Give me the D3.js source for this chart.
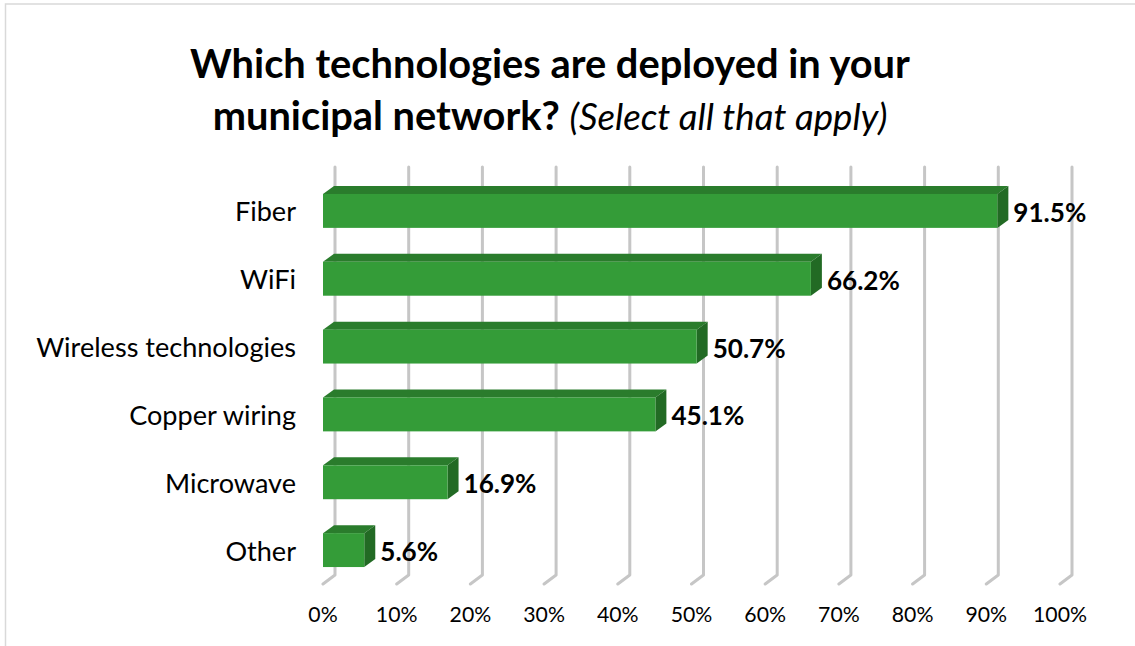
<!DOCTYPE html>
<html>
<head>
<meta charset="utf-8">
<script src="https://cdn.jsdelivr.net/npm/d3@7"></script>
<style>
  html, body { margin: 0; padding: 0; background: #fff; }
  svg { display: block; font-family: Lato, "Open Sans", sans-serif; }
</style>
</head>
<body>
<svg id="chart" width="1135" height="646"></svg>
<script>
const categories = ["Fiber", "WiFi", "Wireless technologies", "Copper wiring", "Microwave", "Other"];
const values = [91.5, 66.2, 50.7, 45.1, 16.9, 5.6];
const valueLabels = ["91.5%", "66.2%", "50.7%", "45.1%", "16.9%", "5.6%"];
const tickValues = [0, 10, 20, 30, 40, 50, 60, 70, 80, 90, 100];
const tickLabels = ["0%", "10%", "20%", "30%", "40%", "50%", "60%", "70%", "80%", "90%", "100%"];

const svg = d3.select("#chart");

// frame
svg.append("rect").attr("x", 5.5).attr("y", 4).attr("width", 1200).attr("height", 700)
  .attr("fill", "none").attr("stroke", "#d9d9d9").attr("stroke-width", 1.5);

// fit a font size so that a sample text matches a target width
function fitSize(sample, weight, style, target, base) {
  const t = svg.append("text").text(sample).attr("font-size", base)
    .attr("font-weight", weight).attr("font-style", style);
  const w = t.node().getComputedTextLength();
  t.remove();
  return base * target / w;
}

// depth offsets
const gdx = 12, gdy = 9;   // floor depth for gridlines
const bdx = 11, bdy = 8;   // bar depth

const x = d3.scaleLinear().domain([0, 100]).range([323, 1060]);
const y = d3.scaleBand().domain(categories).range([177, 584]).paddingInner(0.5).paddingOuter(0.25);
const floorY = 584;
const wallTop = 167;

// gridlines (back wall + floor diagonal)
const grid = svg.append("g");
tickValues.forEach(v => {
  const xf = x(v), xb = xf + gdx;
  grid.append("path")
    .attr("d", `M${xb},${wallTop} L${xb},${floorY - gdy} L${xf},${floorY}`)
    .attr("fill", "none").attr("stroke", "#c6c6c6").attr("stroke-width", 3)
    .attr("stroke-linecap", "round").attr("stroke-linejoin", "round");
});

// bars
const bars = svg.append("g");
categories.forEach((c, i) => {
  const x0 = x(0), x1 = x(values[i]);
  const yt = y(c), yb = yt + y.bandwidth();
  // top face
  bars.append("path")
    .attr("d", `M${x0},${yt} L${x1},${yt} L${x1 + bdx},${yt - bdy} L${x0 + bdx},${yt - bdy} Z`)
    .attr("fill", "#2a7c2c");
  // side face
  bars.append("path")
    .attr("d", `M${x1},${yt} L${x1 + bdx},${yt - bdy} L${x1 + bdx},${yb - bdy} L${x1},${yb} Z`)
    .attr("fill", "#226a24");
  // front face
  bars.append("rect").attr("x", x0).attr("y", yt).attr("width", x1 - x0).attr("height", yb - yt)
    .attr("fill", "#349c38");
});

// value labels
const valSize = fitSize("91.5%", "bold", "normal", 73, 20);
svg.append("g").selectAll("text").data(categories).join("text")
  .attr("x", (c, i) => x(values[i]) + bdx + 5)
  .attr("y", c => y(c) + y.bandwidth() / 2 + 1)
  .attr("dominant-baseline", "central")
  .attr("font-size", valSize).attr("font-weight", "bold").attr("fill", "#000")
  .text((c, i) => valueLabels[i]);

// category labels
const catSize = fitSize("Wireless technologies", "normal", "normal", 260, 20);
svg.append("g").selectAll("text").data(categories).join("text")
  .attr("x", 296)
  .attr("y", c => y(c) + y.bandwidth() / 2)
  .attr("dominant-baseline", "central")
  .attr("text-anchor", "end")
  .attr("font-size", catSize).attr("fill", "#000")
  .text(c => c);

// tick labels
const tickSize = fitSize("100%", "normal", "normal", 54, 20);
svg.append("g").selectAll("text").data(tickValues).join("text")
  .attr("x", v => x(v))
  .attr("y", 622)
  .attr("text-anchor", "middle")
  .attr("font-size", tickSize).attr("fill", "#000")
  .text((v, i) => tickLabels[i]);

// title
const titleSize = fitSize("Which technologies are deployed in your", "bold", "normal", 720, 36);
const italSize = fitSize("(Select all that apply)", "normal", "italic", 318, 30);
svg.append("text").attr("x", 550).attr("y", 78).attr("text-anchor", "middle")
  .attr("font-size", titleSize).attr("font-weight", "bold").attr("fill", "#000")
  .text("Which technologies are deployed in your");
const t2 = svg.append("text").attr("x", 550).attr("y", 130).attr("text-anchor", "middle")
  .attr("fill", "#000");
t2.append("tspan").attr("font-size", titleSize).attr("font-weight", "bold").text("municipal network? ");
t2.append("tspan").attr("font-size", italSize).attr("font-style", "italic").text("(Select all that apply)");
</script>
</body>
</html>
